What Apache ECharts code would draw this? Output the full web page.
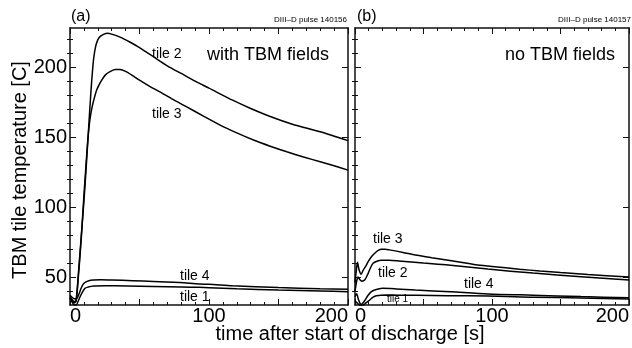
<!DOCTYPE html>
<html>
<head>
<meta charset="utf-8">
<script src="https://cdn.jsdelivr.net/npm/echarts@6/dist/echarts.min.js"></script>
<style>
html,body{margin:0;padding:0;background:#fff;}
#c{width:632px;height:348px;}
</style>
</head>
<body>
<div id="c"></div>
<script>
// ---- data: [time (s), temperature (C)] ----
const tile2A = [[0,36],[1.5,34],[3,32.5],[4.3,33],[6,52],[8,78],[10,104],[11.5,126],[13,150],[14.5,174],[15.6,190],[17,206],[18.5,215],[20,219.5],[21.6,221.8],[24.5,223.6],[27,224.2],[30,223.6],[36,221.5],[43,218],[50,214],[60,207.5],[70,201],[80,195.5],[90,190],[100,185],[117,176.4],[130,170.5],[146,164],[160,159.2],[180,153.8],[200,147.5]];
const tile3A = [[0,35],[1.5,33],[3,31.5],[4.5,33],[6,50],[8,76],[10,108],[11.5,130],[13,150],[14.4,163],[16,172],[17.5,178],[19.2,183.6],[21,187.5],[22.8,190.7],[25.5,194.5],[28.8,196.8],[32.4,198.3],[36,198.4],[40,197],[45,194],[50,190.7],[57,186.5],[64.7,182.4],[74,177],[84,171.6],[96,165],[108,158.6],[120,153],[132,147.9],[144,143.5],[156,139.5],[168,135.8],[180,132.4],[190,129.5],[200,126.4]];
const tile4A = [[0,37],[1.5,35.5],[3,34.5],[4.8,34.5],[6.5,38],[8,42],[9.6,45],[11.5,46.5],[13,47.2],[17,47.8],[22,48],[30,47.8],[45,47.4],[60,46.8],[79,46],[93,45],[100,44.8],[117,43.8],[150,42.5],[180,41.6],[200,41.2]];
const tile1A = [[0,35],[1.5,32],[3,30],[4.5,30],[6,33],[8,37.5],[10.8,41.9],[13,42.8],[17,43.6],[25,43.8],[41,43.6],[60,43.2],[80,42.8],[93,42.6],[100,42.4],[120,41.6],[150,40.7],[180,40],[200,39.5]];

const tile3B = [[0,46],[1,55],[1.8,60.5],[3,55],[4.5,52],[6,55],[8,58],[9.6,61],[12,64.5],[14.4,67],[17,69],[19.2,69.8],[22,69.8],[25,69.4],[35,67.6],[44,65.7],[56,63.8],[68,62],[88,58.8],[100,57.6],[120,55.6],[135,54.3],[150,53.2],[170,51.8],[200,50]];
const tile2B = [[0,40],[1.2,47],[2.2,50],[3.6,48],[5,47],[7.2,48],[9.6,52.6],[11.5,57],[13.2,59.8],[16,61.3],[19.2,62],[25,62],[32,61.5],[50,60],[68,58.6],[97,55.7],[130,52.8],[165,50.2],[200,47.8]];
const tile4B = [[0,36],[1.2,38],[2.5,34],[3.8,31],[4.8,30.5],[7,33],[9.6,37],[12,39.5],[14.4,40.7],[20,41.9],[30,41.5],[44,40.7],[70,39.4],[97,37.9],[130,37],[165,36],[200,35.1]];
const tile1B = [[0,33],[2,31],[4,29.5],[6,29.8],[8,31.5],[10.8,33.6],[13,35.4],[15.6,36.6],[23,37.1],[45,36.9],[68,36.6],[97,36.5],[130,35.6],[165,35],[200,34.3]];

// ---- axes ----
const xRange = [0, 200];
const xMajorStep = 50;
const xLabelValues = [0, 100, 200];
const yRange = [30, 228];
const yLabelValues = [50, 100, 150, 200];
const yMinorValues = [40, 60, 70, 80, 90, 110, 120, 130, 140, 160, 170, 180, 190, 210, 220];

const FONT = '"Liberation Sans", Arial, Helvetica, sans-serif';
const AX = '#111';

const grids = [
  {left: 70, top: 28, width: 278, height: 277},
  {left: 355, top: 28, width: 278, height: 277}
];

const xAxes = [];
const yAxes = [];
grids.forEach((g, gi) => {
  ['bottom', 'top'].forEach(pos => {
    xAxes.push({
      type: 'value', gridIndex: gi, position: pos,
      min: xRange[0], max: xRange[1], interval: xMajorStep,
      axisLine: {show: true, onZero: false, lineStyle: {color: AX, width: 1.5}},
      axisTick: {show: true, inside: true, length: 6, lineStyle: {color: AX, width: 1}},
      minorTick: {show: true, splitNumber: 5, length: 3, lineStyle: {color: AX, width: 1}},
      splitLine: {show: false},
      axisLabel: pos === 'bottom' ? {
        show: true, fontSize: 20, fontFamily: FONT, color: '#000', margin: 1,
        alignMinLabel: 'left', alignMaxLabel: 'right',
        customValues: xLabelValues
      } : {show: false}
    });
  });
  ['left', 'right'].forEach(pos => {
    yAxes.push({
      type: 'value', gridIndex: gi, position: pos,
      min: yRange[0], max: yRange[1],
      axisLine: {show: true, onZero: false, lineStyle: {color: AX, width: 1.5}},
      axisTick: {show: true, inside: true, length: 6, customValues: yLabelValues, lineStyle: {color: AX, width: 1}},
      splitLine: {show: false},
      axisLabel: (pos === 'left' && gi === 0) ? {
        show: true, fontSize: 20, fontFamily: FONT, color: '#000', margin: 3,
        customValues: yLabelValues
      } : {show: false, customValues: yLabelValues}
    });
    yAxes.push({
      type: 'value', gridIndex: gi, position: pos,
      min: yRange[0], max: yRange[1],
      axisLine: {show: false},
      axisTick: {show: true, inside: true, length: 3, customValues: yMinorValues, lineStyle: {color: AX, width: 1}},
      splitLine: {show: false},
      axisLabel: {show: false, customValues: yMinorValues}
    });
  });
});

function mk(data, gi) {
  return {
    type: 'line', data: data, xAxisIndex: gi * 2, yAxisIndex: gi * 4,
    showSymbol: false, symbol: 'none', smooth: 0.25, clip: true,
    lineStyle: {color: '#000', width: 1.5}, silent: true, animation: false
  };
}

function txt(s, x, y, size, align, extra) {
  return Object.assign({
    type: 'text', x: x, y: y, silent: true,
    style: {text: s, font: size + 'px ' + FONT, fill: '#000', textAlign: align || 'left', textVerticalAlign: 'middle'}
  }, extra || {});
}

const option = {
  animation: false,
  backgroundColor: '#fff',
  grid: grids.map(g => Object.assign({containLabel: false}, g)),
  xAxis: xAxes,
  yAxis: yAxes,
  series: [
    mk(tile2A, 0), mk(tile3A, 0), mk(tile4A, 0), mk(tile1A, 0),
    mk(tile3B, 1), mk(tile2B, 1), mk(tile4B, 1), mk(tile1B, 1)
  ],
  graphic: [
    txt('(a)', 71, 17, 16),
    txt('(b)', 357, 17, 16),
    txt('DIII\u2013D pulse 140156', 347, 20, 8, 'right'),
    txt('DIII\u2013D pulse 140157', 631, 20, 8, 'right'),
    txt('with TBM fields', 207, 55, 18),
    txt('no TBM fields', 615, 55, 18, 'right'),
    txt('tile 2', 152, 54, 14),
    txt('tile 3', 152, 114, 14),
    txt('tile 4', 180, 276, 14),
    txt('tile 1', 180, 297, 14),
    txt('tile 3', 373, 239, 14),
    txt('tile 2', 378, 273, 14),
    txt('tile 4', 464, 284, 14),
    txt('tile 1', 387, 299, 10),
    txt('time after start of discharge [s]', 350, 334, 20, 'center'),
    {
      type: 'text', x: 20, y: 170, rotation: Math.PI / 2, silent: true,
      style: {text: 'TBM tile temperature [C]', font: '20px ' + FONT, fill: '#000', textAlign: 'center', textVerticalAlign: 'middle'}
    }
  ]
};

const chart = echarts.init(document.getElementById('c'), null, {renderer: 'canvas'});
chart.setOption(option);
</script>
</body>
</html>
